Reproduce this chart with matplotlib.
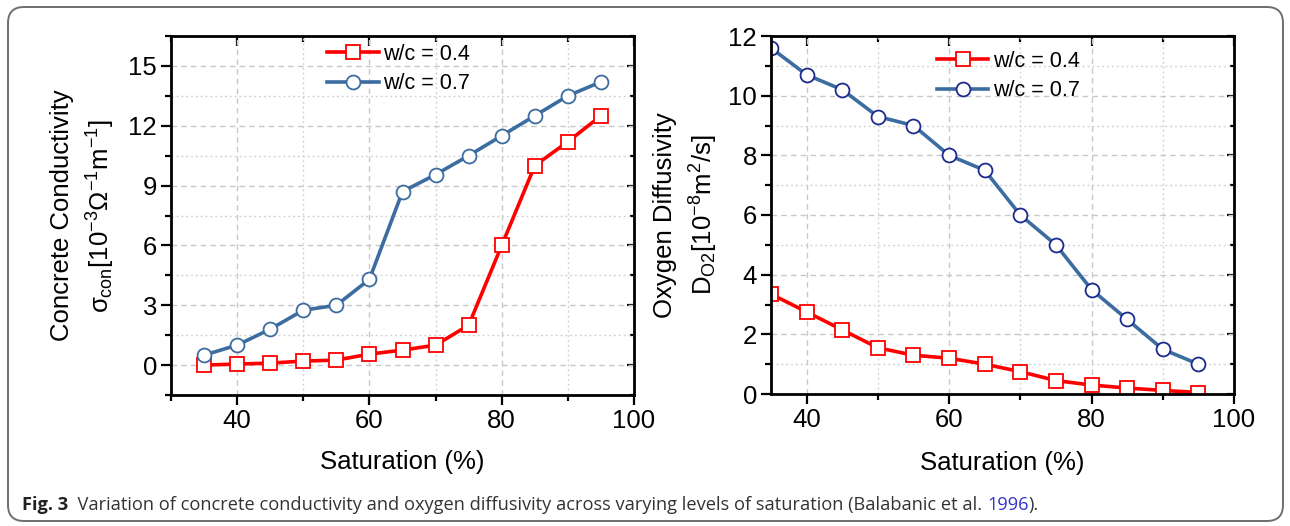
import numpy as np
import matplotlib
matplotlib.use("Agg")
from matplotlib import pyplot as plt
from matplotlib.patches import FancyBboxPatch
from matplotlib.ticker import MultipleLocator

# --- data
saturation = [35, 40, 45, 50, 55, 60, 65, 70, 75, 80, 85, 90, 95]

cond_wc04 = [0.0, 0.05, 0.1, 0.2, 0.25, 0.55, 0.75, 1.0, 2.0, 6.0, 10.0, 11.2, 12.5]
cond_wc07 = [0.5, 1.0, 1.8, 2.75, 3.0, 4.3, 8.7, 9.55, 10.5, 11.5, 12.5, 13.5, 14.2]

diff_wc04 = [3.35, 2.75, 2.15, 1.55, 1.3, 1.2, 1.0, 0.75, 0.45, 0.3, 0.2, 0.12, 0.05]
diff_wc07 = [11.6, 10.7, 10.2, 9.3, 9.0, 8.0, 7.5, 6.0, 5.0, 3.5, 2.5, 1.5, 1.0]

series_labels = ["w/c = 0.4", "w/c = 0.7"]

RED = "#ff0000"
BLUE = "#3c6ca0"
NAVY = "#1c2a8c"

plt.rcParams["font.family"] = ["Liberation Sans", "DejaVu Sans"]
plt.rcParams["mathtext.fontset"] = "custom"
plt.rcParams["mathtext.rm"] = "Liberation Sans"
plt.rcParams["mathtext.it"] = "Liberation Sans"

fig = plt.figure(figsize=(12.9, 5.26), dpi=100)

ax0 = fig.add_axes([171 / 1290, 1 - 395 / 526, 463 / 1290, 359 / 526])
ax1 = fig.add_axes([771 / 1290, 1 - 394 / 526, 463 / 1290, 358 / 526])


def style_axes(ax, xmaj, xmin, ymaj, ymin):
    ax.xaxis.set_major_locator(MultipleLocator(xmaj))
    ax.xaxis.set_minor_locator(MultipleLocator(xmin))
    ax.yaxis.set_major_locator(MultipleLocator(ymaj))
    ax.yaxis.set_minor_locator(MultipleLocator(ymin))
    ax.grid(which="major", color="#c8c8c8", ls=(0, (4, 3)), lw=1.0)
    ax.grid(which="minor", color="#d4d4d4", ls=(0, (1.5, 2)), lw=1.0)
    ax.set_axisbelow(True)
    for s in ax.spines.values():
        s.set_linewidth(2.0)
    ax.tick_params(which="both", direction="out", width=1.6, labelsize=18.5,
                   top=False, right=False)
    ax.tick_params(which="major", length=7, pad=3)
    ax.tick_params(which="minor", length=4)
    # mirrored inward ticks on top and right
    sec_x = ax.secondary_xaxis("top")
    sec_x.xaxis.set_major_locator(MultipleLocator(xmaj))
    sec_x.xaxis.set_minor_locator(MultipleLocator(xmin))
    sec_x.tick_params(which="both", direction="in", width=1.6, labeltop=False)
    sec_x.tick_params(which="major", length=7)
    sec_x.tick_params(which="minor", length=4)
    sec_y = ax.secondary_yaxis("right")
    sec_y.yaxis.set_major_locator(MultipleLocator(ymaj))
    sec_y.yaxis.set_minor_locator(MultipleLocator(ymin))
    sec_y.tick_params(which="both", direction="in", width=1.6, labelright=False)
    sec_y.tick_params(which="major", length=5)
    sec_y.tick_params(which="minor", length=3)


line_kw = dict(lw=2.6, ms=10, mfc="white", mew=1.3)
leg_kw = dict(frameon=False, fontsize=15.5, handlelength=2.4, handletextpad=0.2,
              labelspacing=0.4, borderaxespad=0.2)

# --- left: concrete conductivity
ax0.plot(saturation, cond_wc04, marker="s", color=RED, mec=RED, label=series_labels[0], **line_kw)
ax0.plot(saturation, cond_wc07, marker="o", color=BLUE, mec=BLUE, label=series_labels[1], **line_kw)
ax0.set_xlim(30, 100)
ax0.set_ylim(-1.5, 16.5)
style_axes(ax0, 20, 10, 3, 1.5)
ax0.set_xlabel("Saturation (%)", fontsize=18.5, labelpad=12)
ax0.set_ylabel("Concrete Conductivity\n"
               r"$\sigma_{\mathrm{con}}[10^{-3}\Omega^{-1}\mathrm{m}^{-1}]$",
               fontsize=18.5, labelpad=8, linespacing=1.45)
ax0.legend(loc="upper left", bbox_to_anchor=(0.31, 1.015), **leg_kw)

# --- right: oxygen diffusivity
ax1.plot(saturation, diff_wc04, marker="s", color=RED, mec=RED, label=series_labels[0], **line_kw)
ax1.plot(saturation, diff_wc07, marker="o", color=BLUE, mec=NAVY, label=series_labels[1], **line_kw)
ax1.set_xlim(35, 100)
ax1.set_ylim(0, 12)
style_axes(ax1, 20, 10, 2, 1)
ax1.set_xlabel("Saturation (%)", fontsize=18.5, labelpad=14)
ax1.set_ylabel("Oxygen Diffusivity\n"
               r"$\mathrm{D_{O2}}[10^{-8}\mathrm{m}^{2}/\mathrm{s}]$",
               fontsize=18.5, labelpad=6, linespacing=1.45)
ax1.legend(loc="upper left", bbox_to_anchor=(0.33, 0.995), **leg_kw)

# --- rounded frame round the whole figure
frame = FancyBboxPatch((0.08, 0.05), 12.75, 5.14,
                       boxstyle="round,pad=0,rounding_size=0.16",
                       transform=fig.dpi_scale_trans, fill=False,
                       edgecolor="#6e6e6e", lw=1.4)
fig.patches.append(frame)

# --- caption
cap_font = ["Open Sans", "DejaVu Sans"]
cap_y = 1 - 510 / 526
t0 = fig.text(22 / 1290, cap_y, "Fig. 3", fontsize=13, fontweight="bold",
              family=cap_font, color="#222222", va="baseline")
t1 = fig.text(0, cap_y, "  Variation of concrete conductivity and oxygen diffusivity across varying "
              "levels of saturation (Balabanic et al. ",
              fontsize=13, family=cap_font, color="#333333", va="baseline")
t2 = fig.text(0, cap_y, "1996", fontsize=13, family=cap_font, color="#3333cc", va="baseline")
t3 = fig.text(0, cap_y, ").", fontsize=13, family=cap_font, color="#333333", va="baseline")

# squeeze the caption to the width of the condensed face in the reference
renderer = fig.canvas.get_renderer()
parts = [t0, t1, t2, t3]
target = 1045 - 22
for _ in range(2):
    x = 22
    for t in parts:
        t.set_x(x / 1290)
        x += t.get_window_extent(renderer).width
    total = x - 22
    for t in parts:
        t.set_fontsize(t.get_fontsize() * target / total)
x = 22
for t in parts:
    t.set_x(x / 1290)
    x += t.get_window_extent(renderer).width

fig.savefig("out.png", dpi=100)
